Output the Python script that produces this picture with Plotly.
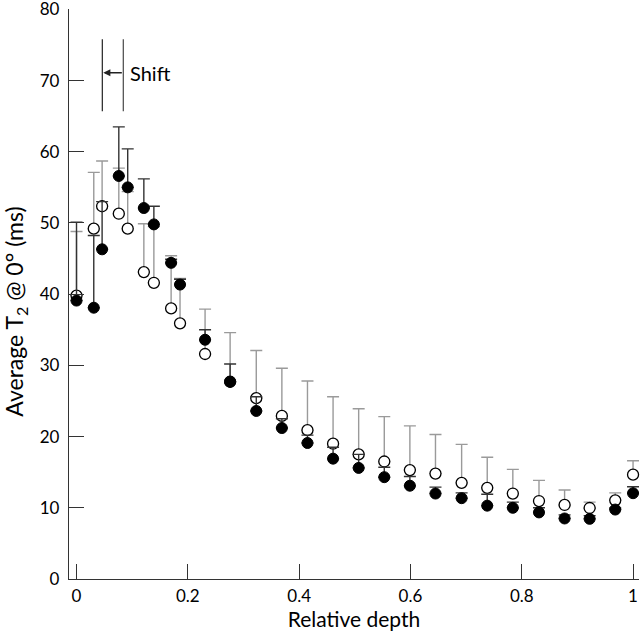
import plotly.graph_objects as go

# ---- data ----
depth = [0.0, 0.031, 0.046, 0.076, 0.092, 0.121, 0.139, 0.170, 0.186, 0.231,
         0.276, 0.323, 0.369, 0.415, 0.461, 0.507, 0.553, 0.599, 0.645, 0.692,
         0.738, 0.784, 0.831, 0.877, 0.922, 0.968, 1.0]

filled_t2 = [39.1, 38.1, 46.3, 56.6, 55.0, 52.1, 49.8, 44.4, 41.35, 33.6,
             27.7, 23.6, 21.2, 19.1, 16.9, 15.6, 14.3, 13.1, 12.0, 11.35,
             10.3, 10.0, 9.35, 8.5, 8.45, 9.75, 12.05]
filled_upper = [50.1, 48.25, 53.0, 63.5, 60.4, 56.2, 52.35, 44.9, 42.1, 35.0,
                30.2, 25.6, 22.5, 20.2, 18.5, 17.5, 15.7, 14.4, 12.9, 12.1,
                11.9, 10.8, 10.0, 9.0, 8.9, 9.97, 12.95]

open_t2 = [39.8, 49.2, 52.35, 51.3, 49.2, 43.1, 41.6, 38.0, 35.9, 31.6,
           27.7, 25.4, 22.9, 20.9, 19.0, 17.5, 16.5, 15.3, 14.8, 13.5,
           12.8, 12.0, 10.95, 10.4, 9.97, 11.05, 14.65]
open_upper = [48.8, 57.1, 58.7, 57.7, 54.4, 49.9, 49.5, 45.4, 42.2, 37.9,
              34.6, 32.1, 29.6, 27.8, 25.6, 23.9, 22.8, 21.5, 20.3, 18.9,
              17.1, 15.4, 13.85, 12.5, 10.8, 12.1, 16.6]

x_tickvals = [0, 0.2, 0.4, 0.6, 0.8, 1.0]
x_ticktext = ["0", "0.2", "0.4", "0.6", "0.8", "1"]
y_tickvals = [0, 10, 20, 30, 40, 50, 60, 70, 80]

FONT = "Lato, 'Open Sans', sans-serif"

open_err = [u - v for u, v in zip(open_upper, open_t2)]
filled_err = [u - v for u, v in zip(filled_upper, filled_t2)]

fig = go.Figure()

fig.add_trace(go.Scatter(
    x=depth, y=open_t2, mode="markers",
    marker=dict(symbol="circle", size=11, color="white",
                line=dict(color="black", width=1.3)),
    error_y=dict(type="data", symmetric=False, array=open_err,
                 arrayminus=[0] * len(open_err),
                 color="#9a9a9a", thickness=1.4, width=6),
    showlegend=False, cliponaxis=False,
))

fig.add_trace(go.Scatter(
    x=depth, y=filled_t2, mode="markers",
    marker=dict(symbol="circle", size=11, color="black",
                line=dict(color="black", width=1)),
    error_y=dict(type="data", symmetric=False, array=filled_err,
                 arrayminus=[0] * len(filled_err),
                 color="#333333", thickness=1.4, width=6),
    showlegend=False, cliponaxis=False,
))

# "Shift" marker lines and arrow
fig.add_shape(type="line", xref="x", yref="y", x0=0.0464, x1=0.0464,
              y0=65.7, y1=75.8, line=dict(color="#333333", width=1.3))
fig.add_shape(type="line", xref="x", yref="y", x0=0.0841, x1=0.0841,
              y0=65.7, y1=75.8, line=dict(color="#555555", width=1.3))
fig.add_annotation(x=0.048, y=71.1, ax=0.0841, ay=71.1, xref="x", yref="y",
                   axref="x", ayref="y", text="", showarrow=True,
                   arrowhead=2, arrowsize=1.1, arrowwidth=1.3,
                   arrowcolor="#222222")
fig.add_annotation(x=0.093, y=71.1, xref="x", yref="y", text="Shift",
                   showarrow=False, xanchor="left", yanchor="middle",
                   font=dict(family=FONT, size=20, color="black"))

# y-axis title (placed as annotation)
fig.add_annotation(x=-0.093, y=0.469, xref="paper", yref="paper",
                   text="Average T<sub>2</sub> @ 0° (ms)", textangle=-90,
                   showarrow=False, xanchor="center", yanchor="middle",
                   font=dict(family=FONT, size=23, color="black"))

fig.update_layout(
    width=640, height=637,
    margin=dict(l=69, r=1, t=9, b=58),
    paper_bgcolor="white", plot_bgcolor="white",
    font=dict(family=FONT, size=17, color="black"),
    xaxis=dict(range=[-0.0135, 1.0107], tickvals=x_tickvals, ticktext=x_ticktext,
               ticks="inside", ticklen=15, tickwidth=1.2, tickcolor="#333333",
               showline=True, linecolor="#333333", linewidth=1.3,
               showgrid=False, zeroline=False, ticklabelstandoff=1,
               ticklabeloverflow="allow", automargin=False,
               title=dict(text="Relative depth", standoff=6,
                          font=dict(family=FONT, size=21, color="black"))),
    yaxis=dict(range=[0, 80.05], tickvals=y_tickvals,
               ticks="inside", ticklen=15, tickwidth=1.2, tickcolor="#333333",
               showline=True, linecolor="#333333", linewidth=1.3,
               showgrid=False, zeroline=False, ticklabelstandoff=5,
               ticklabeloverflow="allow", automargin=False),
)

fig.write_html("out.html", config={"displayModeBar": False},
               post_script="document.body.style.margin='0';document.body.style.padding='0';")
